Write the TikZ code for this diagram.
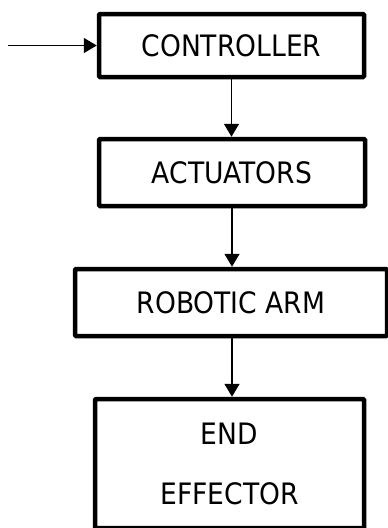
\documentclass[tikz,border=0pt]{standalone}
\usepackage{fontspec}
\setmainfont{DejaVu Sans Condensed}
\usetikzlibrary{arrows.meta}

\begin{document}
\begin{tikzpicture}[x=1pt,y=-1pt]
\useasboundingbox (0,0) rectangle (388,528);
\begin{scope}[every node/.style={rectangle,draw,line width=4.5pt,rounded corners=1pt,font=\fontsize{29.5}{36}\selectfont,align=center}]
	%blocks
    \node[minimum width=265pt,minimum height=63pt] (ctrl) at (231.5,45.5) {CONTROLLER};
 	\node[minimum width=266pt,minimum height=67pt] (act) at (232,172.5) {ACTUATORS};
 	\node[minimum width=312pt,minimum height=67pt] (arm) at (231,302.5) {ROBOTIC ARM};
 	\node[minimum width=269pt,minimum height=129pt] (eff) at (229.5,463.5) {END\\[24pt]EFFECTOR};
\end{scope}
	%arrows
	\coordinate (in) at (8,45.5);
	\draw[line width=1.5pt,-{Triangle[length=13pt,width=15pt]}] (in) -- (ctrl.west);
	\draw[line width=1.5pt,-{Triangle[length=13pt,width=15pt]}] (ctrl.south) -- (ctrl.south |- act.north);
	\draw[line width=1.5pt,-{Triangle[length=13pt,width=15pt]}] (act.south) -- (act.south |- arm.north);
	\draw[line width=1.5pt,-{Triangle[length=13pt,width=15pt]}] (act.south |- arm.south) -- (act.south |- eff.north);
\end{tikzpicture}
\end{document}
